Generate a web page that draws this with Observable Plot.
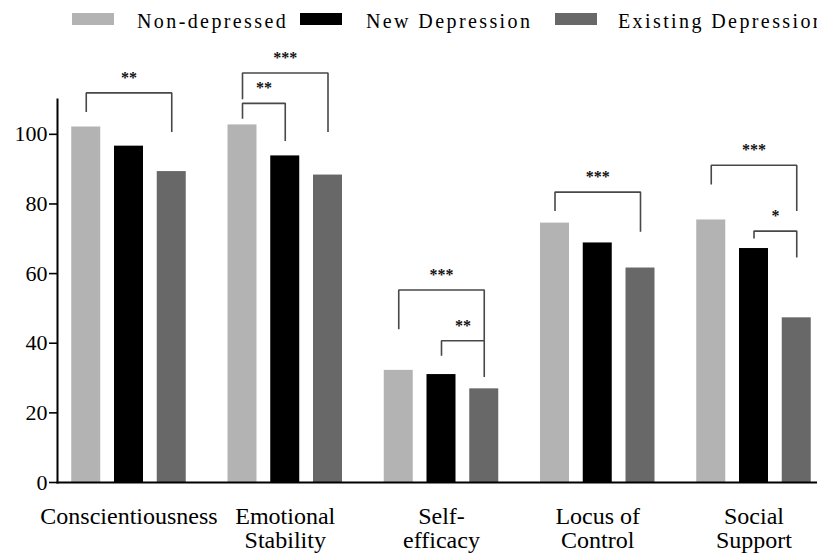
<!DOCTYPE html>
<html>
<head>
<meta charset="utf-8">
<script src="https://cdn.jsdelivr.net/npm/d3@7"></script>
<script src="https://cdn.jsdelivr.net/npm/@observablehq/plot@0.6"></script>
<style>
  html, body { margin: 0; padding: 0; background: #fff; overflow: hidden; width: 817px; height: 555px; }
  #legend { position: relative; height: 40px; width: 817px; overflow: hidden; white-space: nowrap;
            font-family: 'Liberation Serif', 'Times New Roman', serif; font-size: 20px; letter-spacing: 2.4px; color: #000; }
  #legend .sw { position: absolute; top: 13px; width: 42px; height: 12px; }
  #legend .lb { position: absolute; top: 10px; line-height: 22px; }
  #chart svg { display: block; font-family: 'Liberation Serif', 'Times New Roman', serif; }
  #chart svg text { font-family: 'Liberation Serif', 'Times New Roman', serif; }
  #chart g[aria-label="x-axis tick label"] text { font-size: 24px; }
</style>
</head>
<body>
<div id="legend"></div>
<div id="chart"></div>
<script>
// ---- data ----
const groups = ["Conscientiousness", "Emotional\nStability", "Self-\nefficacy", "Locus of\nControl", "Social\nSupport"];
const series = ["Non-depressed", "New Depression", "Existing Depression"];
const nonDepressed = [102.1, 102.7, 32.2, 74.5, 75.4];
const newDepression = [96.6, 93.8, 31.0, 68.8, 67.2];
const existingDepression = [89.3, 88.3, 26.9, 61.6, 47.3];
const seriesColors = ["#b3b3b3", "#000000", "#686868"];
const yTicks = [0, 20, 40, 60, 80, 100];

// significance brackets: group index, compared bars, level and end heights (data units), label
const brackets = [
  {group: 0, from: 0, to: 2, level: 111.9, leftEnd: 106.4, rightEnd: 100.7, label: "**"},
  {group: 1, from: 0, to: 2, level: 117.6, leftEnd: 110.1, rightEnd: 100.7, label: "***"},
  {group: 1, from: 0, to: 1, level: 108.9, leftEnd: 104.5, rightEnd: 98.1, label: "**"},
  {group: 2, from: 0, to: 2, level: 55.3, leftEnd: 44.0, rightEnd: 40.7, label: "***"},
  {group: 2, from: 1, to: 2, level: 40.7, leftEnd: 36.4, rightEnd: 30.3, label: "**"},
  {group: 3, from: 0, to: 2, level: 83.4, leftEnd: 78.0, rightEnd: 72.0, label: "***"},
  {group: 4, from: 0, to: 2, level: 91.1, leftEnd: 85.6, rightEnd: 78.0, label: "***"},
  {group: 4, from: 1, to: 2, level: 72.2, leftEnd: 70.1, rightEnd: 64.6, label: "*"}
];

// ---- layout helpers ----
const barStep = 0.2736;   // distance between bar centres within a group (group step = 1)
const barHalf = 0.0928;   // half bar width
const center = (g, s) => g + (s - 1) * barStep;

const values = [nonDepressed, newDepression, existingDepression];
const bars = [];
groups.forEach((g, gi) => series.forEach((s, si) => {
  bars.push({group: gi, series: s, si, value: values[si][gi]});
}));

const bracketPts = [];
const bracketLabels = [];
brackets.forEach((b, i) => {
  const xl = center(b.group, b.from), xr = center(b.group, b.to);
  bracketPts.push({id: i, x: xl, y: b.leftEnd});
  bracketPts.push({id: i, x: xl, y: b.level});
  bracketPts.push({id: i, x: xr, y: b.level});
  bracketPts.push({id: i, x: xr, y: b.rightEnd});
  bracketLabels.push({x: (xl + xr) / 2, y: b.level, label: b.label});
});

// ---- legend (HTML, above the SVG) ----
const legendPos = [[72, 137], [300, 366], [555, 618]];
const legend = document.getElementById("legend");
series.forEach((s, i) => {
  const sw = document.createElement("div");
  sw.className = "sw"; sw.style.left = legendPos[i][0] + "px"; sw.style.background = seriesColors[i];
  const lb = document.createElement("div");
  lb.className = "lb"; lb.style.left = legendPos[i][1] + "px"; lb.textContent = s;
  legend.append(sw, lb);
});

// ---- chart ----
const chart = Plot.plot({
  width: 817,
  height: 515,
  marginLeft: 57,
  marginRight: 0,
  marginTop: 59,
  marginBottom: 73,
  style: {background: "#fff", color: "#000", overflow: "visible"},
  x: {domain: [-0.4576, 4.4064], axis: null},
  y: {domain: [0, 110], axis: null},
  color: {domain: series, range: seriesColors},
  marks: [
    Plot.rect(bars, {
      x1: d => center(d.group, d.si) - barHalf,
      x2: d => center(d.group, d.si) + barHalf,
      y1: 0, y2: "value", fill: "series"
    }),
    Plot.line(bracketPts, {x: "x", y: "y", z: "id", stroke: "#484848", strokeWidth: 1.6, curve: "linear", strokeLinejoin: "miter", strokeLinecap: "butt"}),
    Plot.text(bracketLabels, {x: "x", y: "y", text: "label", fontSize: 16, fill: "#111", dy: -15, fontWeight: "bold"}),
    // y axis: tick marks from the axis mark, labels as text for full size control
    Plot.axisY({ticks: yTicks, tickSize: 8, strokeWidth: 1.6, label: null, text: null}),
    Plot.text(yTicks, {y: d => d, text: d => String(d), frameAnchor: "left", textAnchor: "end", dx: -10, fontSize: 22, fill: "#000"}),
    Plot.axisX({ticks: d3.range(groups.length), tickSize: 0, tickPadding: 24, fontSize: 24, lineHeight: 1, label: null, tickFormat: i => groups[i]}),
    Plot.frame({anchor: "left", stroke: "#000", strokeWidth: 2}),
    Plot.frame({anchor: "bottom", stroke: "#000", strokeWidth: 2})
  ]
});
document.getElementById("chart").append(chart);
</script>
</body>
</html>
